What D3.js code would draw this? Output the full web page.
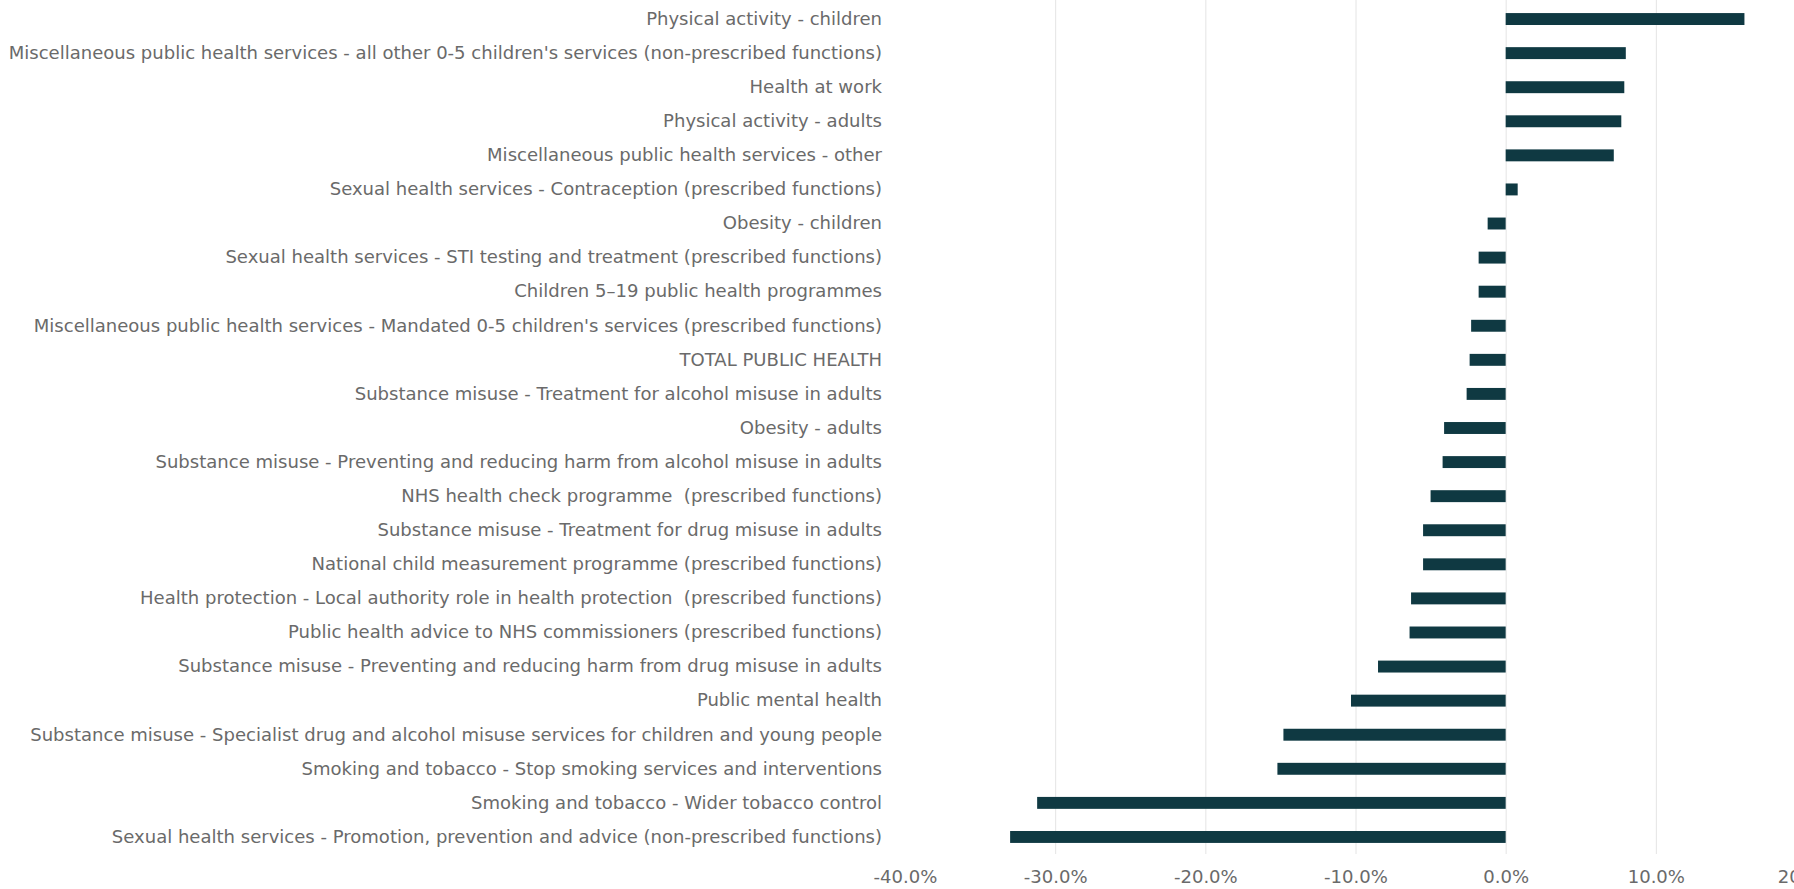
<!DOCTYPE html>
<html>
<head>
<meta charset="utf-8">
<script src="https://cdn.jsdelivr.net/npm/d3@7"></script>
<style>
  html, body { margin: 0; padding: 0; background: #ffffff; }
  svg { display: block; }
  svg text { white-space: pre; }
</style>
</head>
<body>
<svg id="chart" width="1794" height="889"></svg>
<script>
const categories = [
  "Physical activity - children",
  "Miscellaneous public health services - all other 0-5 children's services (non-prescribed functions)",
  "Health at work",
  "Physical activity - adults",
  "Miscellaneous public health services - other",
  "Sexual health services - Contraception (prescribed functions)",
  "Obesity - children",
  "Sexual health services - STI testing and treatment (prescribed functions)",
  "Children 5–19 public health programmes",
  "Miscellaneous public health services - Mandated 0-5 children's services (prescribed functions)",
  "TOTAL PUBLIC HEALTH",
  "Substance misuse - Treatment for alcohol misuse in adults",
  "Obesity - adults",
  "Substance misuse - Preventing and reducing harm from alcohol misuse in adults",
  "NHS health check programme  (prescribed functions)",
  "Substance misuse - Treatment for drug misuse in adults",
  "National child measurement programme (prescribed functions)",
  "Health protection - Local authority role in health protection  (prescribed functions)",
  "Public health advice to NHS commissioners (prescribed functions)",
  "Substance misuse - Preventing and reducing harm from drug misuse in adults",
  "Public mental health",
  "Substance misuse - Specialist drug and alcohol misuse services for children and young people",
  "Smoking and tobacco - Stop smoking services and interventions",
  "Smoking and tobacco - Wider tobacco control",
  "Sexual health services - Promotion, prevention and advice (non-prescribed functions)"
];
const changeValues = [
  0.159, 0.080, 0.079, 0.077, 0.072, 0.008, -0.012, -0.018, -0.018, -0.023,
  -0.024, -0.026, -0.041, -0.042, -0.050, -0.055, -0.055, -0.063, -0.064, -0.085,
  -0.103, -0.148, -0.152, -0.312, -0.330
];
const xTickValues = [-0.4, -0.3, -0.2, -0.1, 0.0, 0.1, 0.2];
const gridTickValues = [-0.3, -0.2, -0.1, 0.0, 0.1, 0.2];

const svg = d3.select("#chart");
const fontFamily = "'DejaVu Sans', Verdana, sans-serif";
const textColor = "#6a6a6a";
const barColor = "#0f3942";

const plotTop = 2, plotBottom = 854;
const x = d3.scaleLinear().domain([-0.4, 0.2]).range([905, 1806]);
const y = d3.scaleBand().domain(categories).range([plotTop, plotBottom]).paddingInner(0.65).paddingOuter(0.325);

const locale = d3.formatLocale({decimal: ".", thousands: ",", grouping: [3], currency: ["", ""], minus: "-"});
const pct = locale.format(".1%");

// gridlines
svg.append("g")
  .attr("transform", `translate(0,${plotBottom})`)
  .call(d3.axisBottom(x).tickValues(gridTickValues).tickSize(-(plotBottom - plotTop + 2)).tickFormat(""))
  .call(g => g.select(".domain").remove())
  .call(g => g.selectAll("line").attr("stroke", "#e4e4e4").attr("stroke-width", 1));

// bars
svg.append("g").selectAll("rect")
  .data(categories.map((c, i) => ({c, v: changeValues[i]})))
  .join("rect")
  .attr("x", d => x(Math.min(0, d.v)))
  .attr("width", d => Math.abs(x(d.v) - x(0)))
  .attr("y", d => y(d.c))
  .attr("height", y.bandwidth())
  .attr("fill", barColor);

// y axis labels
const yAxisG = svg.append("g")
  .attr("transform", `translate(882,0)`)
  .call(d3.axisLeft(y).tickSize(0).tickPadding(0))
  .call(g => g.select(".domain").remove());
const labels = yAxisG.selectAll("text")
  .attr("fill", textColor)
  .style("font-family", fontFamily).style("font-size", "14px");
// fit font size so the longest label spans the same width as in the reference
const w = labels.nodes()[1].getComputedTextLength();
const fs = 14 * 874 / w;
labels.style("font-size", fs.toFixed(2) + "px");

// x axis labels
svg.append("g")
  .attr("transform", `translate(0,${plotBottom})`)
  .call(d3.axisBottom(x).tickValues(xTickValues).tickSize(0).tickFormat(pct))
  .call(g => g.select(".domain").remove())
  .call(g => g.selectAll("text")
      .attr("y", 23).attr("dy", "0.35em")
      .attr("fill", textColor)
      .style("font-family", fontFamily).style("font-size", fs.toFixed(2) + "px"));
</script>
</body>
</html>
